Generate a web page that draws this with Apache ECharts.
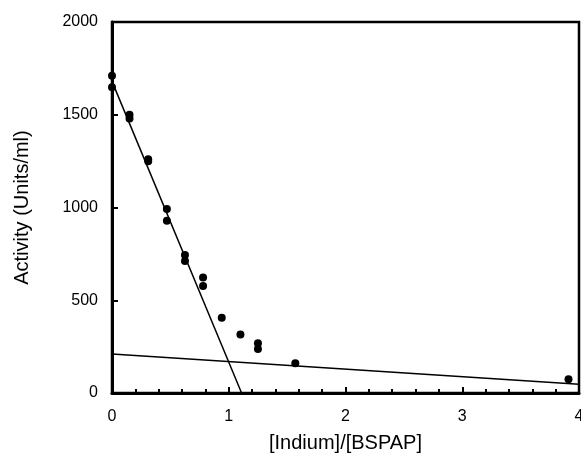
<!DOCTYPE html>
<html>
<head>
<meta charset="utf-8">
<script src="https://cdn.jsdelivr.net/npm/echarts@6/dist/echarts.min.js"></script>
<style>
html,body{margin:0;padding:0;background:#fff;}
#chart{width:581px;height:460px;}
</style>
</head>
<body>
<div id="chart"></div>
<script>
// Measured activity points: [ratio, activity]
const ratioValues = [0, 0, 0.15, 0.15, 0.31, 0.31, 0.47, 0.47, 0.625, 0.625, 0.78, 0.78, 0.94, 1.10, 1.25, 1.25, 1.57, 3.91];
const activityValues = [1710, 1648, 1500, 1480, 1260, 1250, 992, 929, 744, 712, 622, 577, 406, 316, 268, 237, 160, 74];
// Fitted lines (endpoints)
const steepLineX = [0, 1.11];
const steepLineY = [1680, 0];
const flatLineX = [0, 4];
const flatLineY = [210, 47];
const xTicks = [0, 1, 2, 3, 4];
const yTicks = [0, 500, 1000, 1500, 2000];

const font = 'Liberation Sans, Arial, Helvetica, sans-serif';
const chart = echarts.init(document.getElementById('chart'), null, {renderer: 'canvas'});
const pts = ratioValues.map((x, i) => [x, activityValues[i]]);
chart.setOption({
  animation: false,
  backgroundColor: '#fff',
  grid: {left: 112, top: 22, right: 2, bottom: 67, outerBoundsMode: 'none', containLabel: false,
         show: true, borderColor: '#000', borderWidth: 2.5, backgroundColor: 'transparent'},
  xAxis: {
    type: 'value', min: xTicks[0], max: xTicks[xTicks.length - 1], interval: 1,
    name: '[Indium]/[BSPAP]', nameLocation: 'middle', nameGap: 40,
    nameTextStyle: {fontFamily: font, fontSize: 20, color: '#000'},
    axisLine: {show: true, lineStyle: {color: '#000', width: 3}},
    axisTick: {show: true, inside: true, length: 6, lineStyle: {color: '#000', width: 2}},
    minorTick: {show: true, splitNumber: 5, length: 4, lineStyle: {color: '#000', width: 2}},
    axisLabel: {fontFamily: font, fontSize: 16, color: '#000', margin: 16, showMaxLabel: true,
                formatter: v => String(v)},
    splitLine: {show: false}
  },
  yAxis: {
    type: 'value', min: yTicks[0], max: yTicks[yTicks.length - 1], interval: 500,
    name: 'Activity (Units/ml)', nameLocation: 'middle', nameGap: 80,
    nameTextStyle: {fontFamily: font, fontSize: 20, color: '#000'},
    axisLine: {show: true, lineStyle: {color: '#000', width: 3}},
    axisTick: {show: true, inside: true, length: 6, lineStyle: {color: '#000', width: 2}},
    axisLabel: {fontFamily: font, fontSize: 16, color: '#000', margin: 14,
                formatter: v => String(v)},
    splitLine: {show: false}
  },
  series: [
    {type: 'line', data: steepLineX.map((x, i) => [x, steepLineY[i]]), symbol: 'none', lineStyle: {color: '#000', width: 1.5}, z: 2},
    {type: 'line', data: flatLineX.map((x, i) => [x, flatLineY[i]]), symbol: 'none', lineStyle: {color: '#000', width: 1.5}, z: 2},
    {type: 'scatter', data: pts, symbol: 'circle', symbolSize: 8, itemStyle: {color: '#000', opacity: 1}, z: 3}
  ]
});
</script>
</body>
</html>
